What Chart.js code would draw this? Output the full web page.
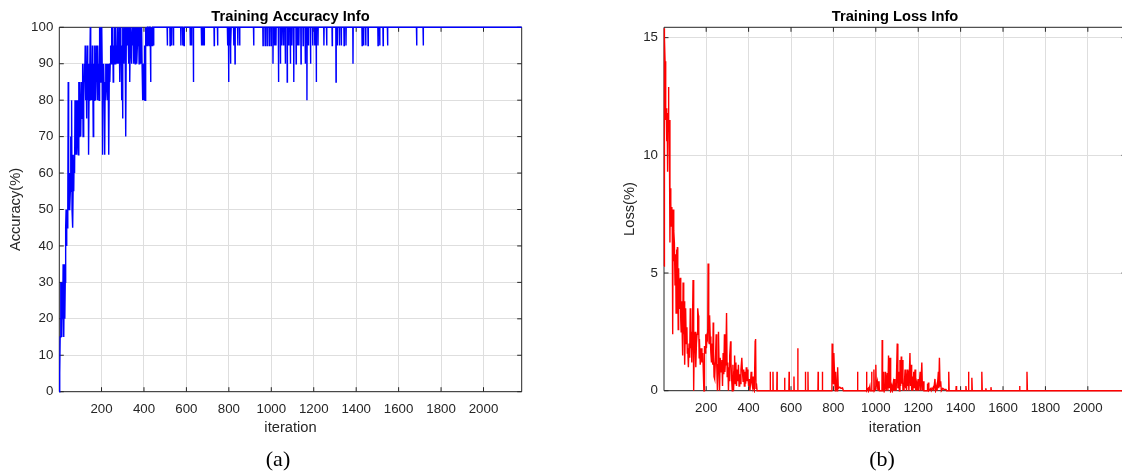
<!DOCTYPE html>
<html><head><meta charset="utf-8">
<script src="https://cdn.jsdelivr.net/npm/chart.js@4.4.1/dist/chart.umd.min.js"></script>
<style>
html,body{margin:0;padding:0;background:#fff;overflow:hidden;width:1122px;height:473px;}
#wrap{position:relative;width:1122px;height:473px;overflow:hidden;background:#fff;}
canvas{position:absolute;top:0;}
#cA{left:0;}
#cB{left:600px;}
.cap{position:absolute;top:459px;font-family:"Liberation Serif","Times New Roman",serif;font-size:22px;color:#000;transform:translate(-50%,-50%);white-space:nowrap;}
</style></head>
<body><div id="wrap">
<canvas id="cA" width="560" height="473"></canvas>
<canvas id="cB" width="540" height="473"></canvas>
<div class="cap" style="left:278px">(a)</div>
<div class="cap" style="left:882px">(b)</div>
</div>
<script>
// ---------- DATA ----------
const xTicks = [200,400,600,800,1000,1200,1400,1600,1800,2000];
const accTicks = [0,10,20,30,40,50,60,70,80,90,100];
const lossTicks = [0,5,10,15];

// accuracy (%) : early dense region, iterations 1..447 (every 2)
const accIterEarly = [
1,3,5,7,9,11,13,15,17,19,
21,23,25,27,29,31,33,35,37,39,
41,43,45,47,49,51,53,55,57,59,
61,63,65,67,69,71,73,75,77,79,
81,83,85,87,89,91,93,95,97,99,
101,103,105,107,109,111,113,115,117,119,
121,123,125,127,129,131,133,135,137,139,
141,143,145,147,149,151,153,155,157,159,
161,163,165,167,169,171,173,175,177,179,
181,183,185,187,189,191,193,195,197,199,
201,203,205,207,209,211,213,215,217,219,
221,223,225,227,229,231,233,235,237,239,
241,243,245,247,249,251,253,255,257,259,
261,263,265,267,269,271,273,275,277,279,
281,283,285,287,289,291,293,295,297,299,
301,303,305,307,309,311,313,315,317,319,
321,323,325,327,329,331,333,335,337,339,
341,343,345,347,349,351,353,355,357,359,
361,363,365,367,369,371,373,375,377,379,
381,383,385,387,389,391,393,395,397,399,
401,403,405,407,409,411,413,415,417,419,
421,423,425,427,429,431,433,435,437,439,
441,443,445,447];
const accValEarly = [
0,5,15,30,25,30,15,30,20,35,
25,15,35,20,30,45,50,40,50,45,
50,85,55,50,60,50,55,70,60,80,
50,65,45,60,55,65,60,80,65,75,
80,65,70,80,75,65,85,70,85,75,
80,70,85,80,75,90,70,85,80,90,
85,95,80,90,75,85,95,80,90,65,
80,90,85,100,80,90,85,80,95,85,
70,90,80,95,85,90,80,95,85,90,
80,95,85,90,80,100,85,90,100,85,
100,90,65,90,85,90,80,65,85,90,
80,85,90,85,80,90,85,65,90,85,
90,95,90,100,95,90,100,85,95,90,
100,95,90,100,95,90,95,100,90,95,
90,100,95,85,100,90,95,80,95,75,
100,95,90,100,95,100,90,70,100,95,
100,95,100,90,95,100,85,95,100,95,
90,95,100,95,100,90,95,100,95,90,
100,95,100,90,95,100,95,100,90,100,
95,100,90,95,100,90,80,90,85,80,
90,95,80,95,100,95,100,95,100,100,
95,100,95,100,100,85,100,95,100,95,
100,100,95,100];

// accuracy (%) : later region, occasional dips from 100
const accIterLate = [
449,
509,510,511, 522,523,524, 529,530,531, 538,539,540,
573,574,575, 582,583,584, 588,589,590, 617,618,619,
623,624,625, 632,633,634, 670,671,672, 677,678,679,
683,684,685, 730,731,732, 746,747,748, 793,794,795,
798,799,800, 801,802,803, 806,807,808, 809,810,811,
822,823,824, 828,829,830, 841,842,843, 850,851,852,
916,917,918, 960,961,962, 970,971,972, 979,980,981,
989,990,991, 998,999,1000, 1007,1008,1009, 1014,1015,1016,
1021,1022,1023, 1033,1034,1035, 1042,1043,1044, 1049,1050,1051,
1057,1058,1059, 1065,1066,1067, 1074,1075,1076, 1081,1082,1083,
1089,1090,1091, 1096,1097,1098, 1105,1106,1107, 1116,1117,1118,
1122,1123,1124, 1129,1130,1131, 1139,1140,1141, 1149,1150,1151,
1159,1160,1161, 1167,1168,1169, 1174,1175,1176, 1184,1185,1186,
1194,1195,1196, 1204,1205,1206, 1211,1212,1213, 1219,1220,1221,
1247,1248,1249, 1260,1261,1262, 1286,1287,1288, 1304,1305,1306,
1310,1311,1312, 1320,1321,1322, 1329,1330,1331, 1342,1343,1344,
1351,1352,1353, 1384,1385,1386, 1427,1428,1429, 1434,1435,1436,
1444,1445,1446, 1455,1456,1457, 1502,1503,1504, 1510,1511,1512,
1526,1527,1528, 1547,1548,1549, 1684,1685,1686, 1715,1716,1717,
2180];
const accValLate = [
100,
100,95,100, 100,95,100, 100,95,100, 100,95,100,
100,95,100, 100,95,100, 100,95,100, 100,95,100,
100,95,100, 100,85,100, 100,95,100, 100,95,100,
100,95,100, 100,95,100, 100,95,100, 100,95,100,
100,85,100, 100,95,100, 100,90,100, 100,95,100,
100,95,100, 100,90,100, 100,95,100, 100,95,100,
100,95,100, 100,95,100, 100,95,100, 100,95,100,
100,95,100, 100,95,100, 100,90,100, 100,95,100,
100,95,100, 100,85,100, 100,90,100, 100,95,100,
100,95,100, 100,90,100, 100,85,100, 100,95,100,
100,90,100, 100,95,100, 100,85,100, 100,90,100,
100,95,100, 100,95,100, 100,90,100, 100,95,100,
100,90,100, 100,80,100, 100,95,100, 100,90,100,
100,95,100, 100,95,100, 100,85,100, 100,95,100,
100,95,100, 100,95,100, 100,95,100, 100,85,100,
100,95,100, 100,95,100, 100,95,100, 100,95,100,
100,95,100, 100,90,100, 100,95,100, 100,95,100,
100,95,100, 100,95,100, 100,95,100, 100,95,100,
100,95,100, 100,95,100, 100,95,100, 100,95,100,
100];

// loss (%) : early dense region
const lossIterEarly = [
1,2,4,6,8,10,12,14,16,18,
20,22,24,26,29,31,33,35,38,40,
42,44,46,48,50,53,56,58,60,62,
64,66,68,70,72,75,78,80,82,84,
86,89,91,94,96,97,100,103,106,109,
111,113,116,119,122,125,127,129,132,135,
138,140,142,144,145,148,151,154,157,160,
163,165,167,168,172,176,180,184,189,191,
192,195,198,201,204,207,209,211,213,215,
216,219,222,225,228,231,233,235,237,239,
241,244,247,250,253,256,258,261,263,266,
270,274,277,280,283,286,288,290,293,296,
299,302,305,308,310,312,315,317,320,323,
326,329,332,334,337,340,343,346,349,352,
355,358,361,364,368,371,374,377,380,383,
386,389,392,395,397,400,403,406,409,412,
415,418,421,424,427,431,433,435,437,440,
444];
const lossValEarly = [
5.3,15.4,15.0,14.0,12.2,11.5,12.0,10.6,11.8,9.3,
11.5,12.9,11.0,11.5,6.3,8.6,8.0,7.0,7.8,7.0,
2.4,7.7,5.5,6.8,6.3,4.5,5.8,3.3,6.0,4.0,
6.1,5.0,2.6,5.2,3.5,4.5,4.8,3.0,2.5,3.8,
2.8,1.5,4.6,2.4,3.0,3.8,1.1,3.5,2.0,2.7,
1.6,1.8,1.0,2.0,1.4,3.5,1.8,2.5,1.2,2.6,
4.7,1.5,0.0,2.4,1.8,2.5,1.0,2.0,2.4,3.5,
3.2,2.6,1.4,2.2,1.1,1.8,1.2,1.6,0.0,0.0,
1.9,1.6,2.4,1.8,2.3,2.2,5.4,2.5,3.2,2.0,
3.2,2.3,1.6,1.2,2.0,1.1,2.9,1.6,0.6,1.2,
0.5,1.4,2.4,1.0,0.0,1.1,2.5,1.0,0.0,1.4,
0.8,1.3,0.2,1.6,0.7,2.4,0.8,1.1,1.5,3.3,
0.6,1.2,0.0,1.0,0.4,1.5,2.1,1.2,0.5,0.0,
1.1,0.0,0.8,1.5,0.3,1.2,0.2,0.9,0.4,1.1,
0.2,0.7,0.3,0.9,1.4,0.8,0.4,0.9,0.2,0.8,
0.3,1.0,0.4,0.9,0.6,0.2,0.5,0.0,0.3,0.8,
0.4,0.2,0.6,0.1,0.0,2.1,2.2,0.1,0.3,0.0,
0.0];

// loss (%) : later region, sparse spikes above 0
const lossIterLate = [
501,502,503, 514,515,516, 533,534,535, 569,570,571, 590,591,592, 613,614,615, 631,632,633, 667,668,669, 679,680,681, 727,728,729, 747,748,749,
793,794,797,800,802,806,809,811,815,818,820,823,830,836,843,847,
913,914,915, 955,956,958, 964,966, 972,974, 979,980,982, 990,991,993, 999,1000,1002, 1007,1010, 1015,1017,
1029,1030,1032, 1037,1038,1040, 1045,1046,1049, 1054,1057, 1060,1063, 1067,1070, 1075,1078, 1082,1085, 1087,1090, 1093,1096,
1101,1104, 1108,1111, 1114,1117, 1120,1122, 1125,1128, 1130,1133, 1138,1140, 1142,1145, 1149,1151, 1153,1156,
1161,1164, 1166,1169, 1172,1175, 1179,1182, 1185,1188, 1193,1196, 1200,1203, 1209,1212, 1217,1220, 1224,1227,
1242,1243,1245, 1248,1250, 1260,1262, 1271,1273, 1279,1282, 1287,1289, 1295,1297, 1300,1303, 1306,1309, 1316,1322,1331,1334,
1343,1344,1346, 1378,1379,1381, 1424,1425,1427, 1436,1437,1439, 1452,1453,1455, 1499,1500,1502, 1518,1519,1521, 1542,1543,1545, 1677,1678,1680, 1712,1713,1715,
2180];
const lossValLate = [
0,0.8,0, 0,0.8,0, 0,0.8,0, 0,0.55,0, 0,0.8,0, 0,0.6,0, 0,1.8,0, 0,0.8,0, 0,0.8,0, 0,0.8,0, 0,0.8,0,
0,2.0,1.2,0.3,1.6,0.5,0,0.8,0.2,0,1.0,0.1,0.15,0.1,0.12,0,
0,0.8,0, 0,0.8,0, 0.1,0, 0.2,0, 0,0.8,0, 0,0.9,0, 0.1,1.1,0.2, 0.4,0, 0.4,0,
0,2.15,0, 0,0.8,0, 0.2,0.8,0, 0.75,0, 1.5,0.1, 1.4,0, 0.2,0, 0.3,0, 0.5,0, 0.3,0,
2.0,0.1, 0.8,0, 1.3,0.2, 1.45,0.3, 1.3,0, 0.3,0, 0.9,0.1, 0.8,0, 0.9,0.2, 0.85,0,
1.6,0.2, 1.1,0, 0.6,0, 0.8,0.1, 0.9,0, 0.3,0, 0.5,0, 0.8,0, 1.2,0, 0.4,0,
0,0.3,0, 0.35,0, 0.1,0, 0.15,0, 0.5,0, 0.2,0, 0.8,0.1, 1.4,0.2, 0.4,0, 0.1,0.05,0.05,0,
0,0.8,0, 0,0.2,0, 0,0.2,0, 0,0.8,0, 0,0.55,0, 0,0.8,0, 0,0.1,0, 0,0.15,0, 0,0.2,0, 0,0.8,0,
0];

// ---------- BUILD ----------
function toPoints(xs, ys) {
  if (xs.length !== ys.length) throw new Error('length mismatch ' + xs.length + ' vs ' + ys.length);
  return xs.map((x, i) => ({x: x, y: ys[i]}));
}
const accPoints = toPoints(accIterEarly, accValEarly).concat(toPoints(accIterLate, accValLate));
const lossPoints = toPoints(lossIterEarly, lossValEarly).concat(toPoints(lossIterLate, lossValLate));

const FONT = '"Liberation Sans", Arial, Helvetica, sans-serif';
const AXC = '#262626';
const GRID = '#dedede';

const boxPlugin = {
  id: 'matlabBox',
  beforeDatasetsDraw(chart) {
    const {ctx, chartArea: a, scales} = chart;
    ctx.save();
    ctx.strokeStyle = AXC;
    ctx.lineWidth = 1;
    ctx.beginPath();
    ctx.rect(a.left, a.top, a.right - a.left, a.bottom - a.top);
    ctx.stroke();
    const L = 4.5;
    ctx.beginPath();
    scales.x.ticks.forEach(t => {
      const px = scales.x.getPixelForValue(t.value);
      ctx.moveTo(px, a.bottom); ctx.lineTo(px, a.bottom - L);
      ctx.moveTo(px, a.top); ctx.lineTo(px, a.top + L);
    });
    scales.y.ticks.forEach(t => {
      const py = scales.y.getPixelForValue(t.value);
      ctx.moveTo(a.left, py); ctx.lineTo(a.left + L, py);
      ctx.moveTo(a.right, py); ctx.lineTo(a.right - L, py);
    });
    ctx.stroke();
    ctx.restore();
  }
};

function makeChart(id, o) {
  return new Chart(document.getElementById(id), {
    type: 'line',
    data: { datasets: [{
      data: o.points, borderColor: o.color, borderWidth: 1.4,
      pointRadius: 0, fill: false, tension: 0, clip: 2
    }]},
    options: {
      responsive: false, animation: false, events: [],
      layout: { padding: { left: 0, top: 0, right: o.padRight, bottom: 0 } },
      plugins: {
        legend: { display: false }, tooltip: { enabled: false },
        title: { display: true, text: o.title, color: '#000', fullSize: false,
          font: { family: FONT, size: 14.7, weight: 'bold' },
          padding: { top: 8, bottom: o.topPadB } }
      },
      scales: {
        x: {
          type: 'linear', min: 1, max: 2180,
          afterBuildTicks: s => { s.ticks = xTicks.map(v => ({value: v})); },
          afterFit: s => { s.height = o.xHeight; },
          grid: { color: GRID, lineWidth: 1, drawTicks: false },
          border: { display: false },
          ticks: { color: AXC, font: { family: FONT, size: 13.3 }, padding: 10, maxRotation: 0, autoSkip: false,
            callback: v => String(v) },
          title: { display: true, text: 'iteration', color: AXC,
            font: { family: FONT, size: 14.7 }, padding: { top: 0, bottom: 36.5 } }
        },
        y: {
          type: 'linear', min: o.yMin, max: o.yMax,
          afterBuildTicks: s => { s.ticks = o.yTicks.map(v => ({value: v})); },
          afterFit: s => { s.width = o.yWidth; },
          grid: { color: GRID, lineWidth: 1, drawTicks: false },
          border: { display: false },
          ticks: { color: AXC, font: { family: FONT, size: 13.3 }, padding: 6, autoSkip: false,
            callback: v => String(v) },
          title: { display: true, text: o.yLabel, color: AXC,
            font: { family: FONT, size: 14.7 }, padding: { top: o.yTitlePad, bottom: 0 } }
        }
      }
    },
    plugins: [boxPlugin]
  });
}

makeChart('cA', {
  points: accPoints, color: '#0000ff', title: 'Training Accuracy Info', yLabel: 'Accuracy(%)',
  yMin: 0, yMax: 100, yTicks: accTicks, yWidth: 59.3, padRight: 560 - 521.7,
  xHeight: 473 - 391.7, topPadB: 1.66, yTitlePad: 7.2
});
makeChart('cB', {
  points: lossPoints, color: '#ff0000', title: 'Training Loss Info', yLabel: 'Loss(%)',
  yMin: 0, yMax: 15.44, yTicks: lossTicks, yWidth: 64, padRight: 540 - 526,
  xHeight: 473 - 390.7, topPadB: 1.66, yTitlePad: 20.7
});
</script>
</body></html>
